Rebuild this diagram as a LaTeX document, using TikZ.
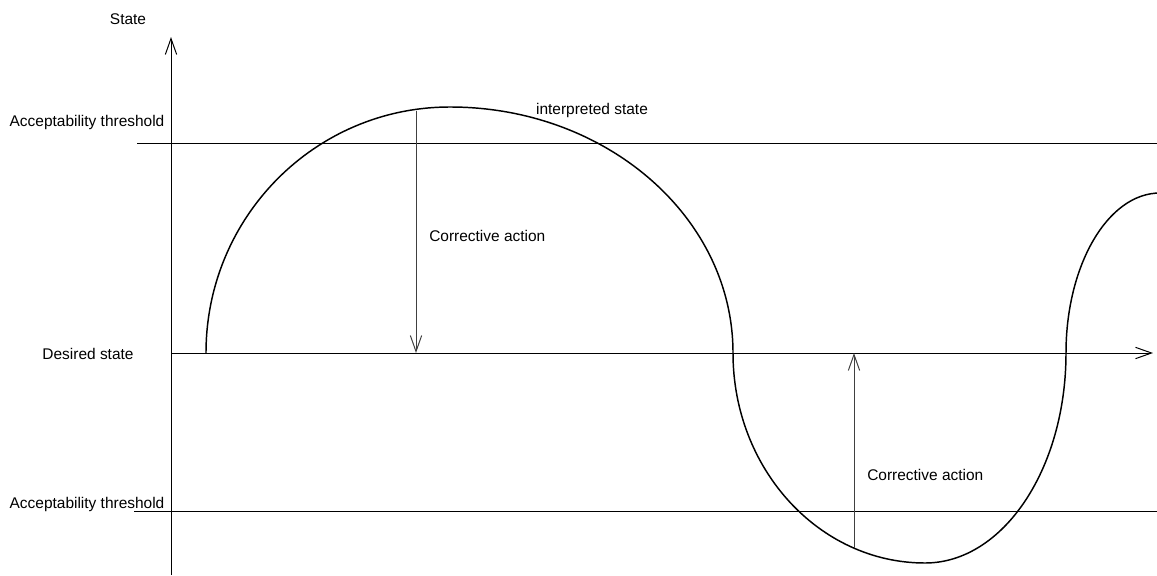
\documentclass[tikz,border=0pt]{standalone}
\usepackage{fontspec}
\setmainfont{Liberation Sans}
\usetikzlibrary{arrows.meta, positioning, calc}

\begin{document}
\begin{tikzpicture}[
  x=0.75pt, y=-0.75pt,
  >={Straight Barb[length=12pt, width=8.5pt]},
  axisline/.style={black, line width=0.75pt},
  corrline/.style={black!75, line width=0.75pt},
  lbl/.style={font=\fontsize{11.6}{13}\selectfont, inner sep=0pt},
]
\useasboundingbox (0,0) rectangle (1157,575);

% === Axes ===
\coordinate (yfoot) at (171,575);
\coordinate (ytip) at (171,37);
\coordinate (xfoot) at (171,353);
\coordinate (xtip) at (1153,353);
\draw[->, axisline] (yfoot) -- (ytip);
\draw[->, axisline] (xfoot) -- (xtip);

% Thresholds
\coordinate (hiL) at (137,143);
\coordinate (hiR) at (1157,143);
\coordinate (loL) at (134,511);
\coordinate (loR) at (1157,511);
\draw[axisline] (hiL) -- (hiR);
\draw[axisline] (loL) -- (loR);

% Labels
\node[lbl] (state) at (128,19) {State};
\node[lbl] (hilabel) at (87,122) {Acceptability threshold};
\node[lbl] (desired) at (88,354) {Desired state};
\node[lbl] (lolabel) at (87,504) {Acceptability threshold};

% === Interpreted state curve (quarter ellipses) ===
\draw[black, line width=1.1pt]
  (206,353) .. controls (206,217) and (315,107) .. (450,107)
            .. controls (606,107) and (733,217) .. (733,353)
            .. controls (733,469) and (819,563) .. (925,563)
            .. controls (1003,563) and (1066,469) .. (1066,353)
            .. controls (1066,265) and (1108,193) .. (1160,193);
\node[lbl] (interp) at (592,110) {interpreted state};

% === Corrective actions ===
\coordinate (cdtop) at (416,111);
\coordinate (cdtip) at (416,353);
\draw[->, corrline] (cdtop) -- (cdtip);
\node[lbl, anchor=west] (corrA) at (429,236) {Corrective action};

\coordinate (cubot) at (854,548);
\coordinate (cutip) at (854,353);
\draw[->, corrline] (cubot) -- (cutip);
\node[lbl, anchor=west] (corrB) at (867,475) {Corrective action};

\end{tikzpicture}
\end{document}
